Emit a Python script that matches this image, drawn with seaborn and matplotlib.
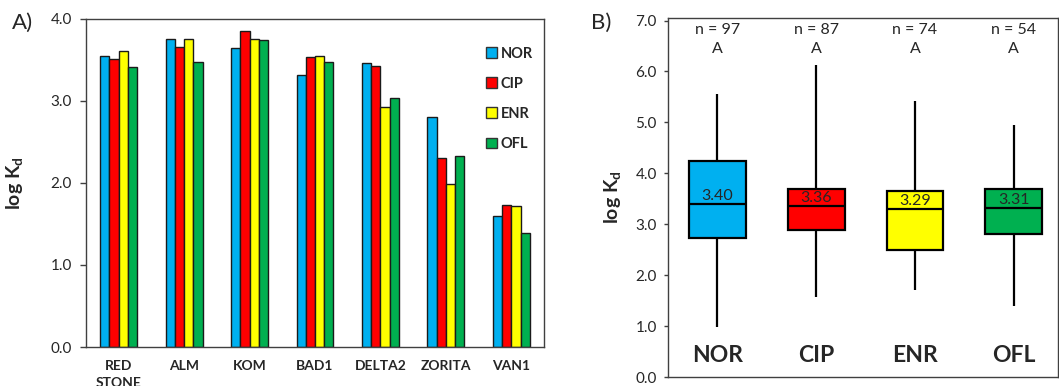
import pandas as pd
import matplotlib
matplotlib.use("Agg")
import matplotlib.pyplot as plt
import seaborn as sns
from matplotlib.patches import Patch

# --- data ---
sites = ["RED\nSTONE", "ALM", "KOM", "BAD1", "DELTA2", "ZORITA", "VAN1"]
drugs = ["NOR", "CIP", "ENR", "OFL"]
nor_kd = [3.55, 3.76, 3.64, 3.32, 3.46, 2.80, 1.60]
cip_kd = [3.51, 3.66, 3.85, 3.54, 3.43, 2.30, 1.73]
enr_kd = [3.61, 3.76, 3.76, 3.55, 2.93, 1.99, 1.72]
ofl_kd = [3.41, 3.48, 3.74, 3.48, 3.04, 2.33, 1.39]

# five-number summaries for panel B (min, q1, median, q3, max)
nor_box = [0.99, 2.73, 3.40, 4.25, 5.55]
cip_box = [1.58, 2.88, 3.36, 3.70, 6.12]
enr_box = [1.71, 2.49, 3.29, 3.65, 5.42]
ofl_box = [1.39, 2.80, 3.31, 3.70, 4.94]
n_counts = [97, 87, 74, 54]
groups = ["A", "A", "A", "A"]

colors = ["#00B0F0", "#FF0000", "#FFFF00", "#00B050"]

sns.set_theme(style="white")
plt.rcParams['font.family'] = ['Lato', 'DejaVu Sans']
plt.rcParams['mathtext.fontset'] = 'custom'
plt.rcParams['mathtext.rm'] = 'Lato'
plt.rcParams['mathtext.bf'] = 'Lato:bold'

fig = plt.figure(figsize=(10.59, 3.86), dpi=100)
ax1 = fig.add_axes([0.0812, 0.101, 0.4325, 0.850])
ax2 = fig.add_axes([0.6308, 0.0233, 0.3685, 0.9300])

# ---------------- A) grouped bars ----------------
rows = []
for vals, d in zip([nor_kd, cip_kd, enr_kd, ofl_kd], drugs):
    for s, v in zip(sites, vals):
        rows.append({"site": s, "drug": d, "kd": v})
df_bar = pd.DataFrame(rows)

sns.barplot(data=df_bar, x="site", y="kd", hue="drug", order=sites, hue_order=drugs,
            palette=colors, saturation=1, width=0.565, gap=0, edgecolor="#1a1a1a",
            linewidth=1, ax=ax1, legend=False)
ax1.set_xlim(-0.5, 6.5)
ax1.set_ylim(0, 4)
ax1.set_yticks([0, 1, 2, 3, 4])
ax1.set_yticklabels([f"{t:.1f}" for t in [0, 1, 2, 3, 4]], fontsize=11)
ax1.tick_params(axis="y", left=True, length=4, width=1, color="#404040", pad=6)
ax1.tick_params(axis="x", length=0, pad=9)
for lab in ax1.get_xticklabels():
    lab.set_fontweight("bold")
    lab.set_fontsize(10)
    lab.set_linespacing(1.5)
ax1.set_xlabel("")
ax1.set_ylabel(r"log K$_\mathbf{d}$", fontsize=14, fontweight="bold", labelpad=18)
for sp in ax1.spines.values():
    sp.set_color("#404040")
    sp.set_linewidth(1)

handles = [Patch(facecolor=c, edgecolor="#333333", linewidth=1) for c in colors]
ax1.legend(handles, drugs, loc="upper left", bbox_to_anchor=(0.845, 0.955), frameon=False,
           handlelength=0.75, handleheight=0.75, handletextpad=0.25, labelspacing=1.1,
           prop={"weight": "bold", "size": 10.5})

# ---------------- B) box plots ----------------
rows = []
for vals, d in zip([nor_box, cip_box, enr_box, ofl_box], drugs):
    for v in vals:
        rows.append({"drug": d, "kd": v})
df_box = pd.DataFrame(rows)

sns.boxplot(data=df_box, x="drug", y="kd", hue="drug", order=drugs, hue_order=drugs,
            palette=colors, whis=(0, 100), width=0.575, linewidth=1.6, linecolor="black",
            showcaps=False, saturation=1, ax=ax2, legend=False)
ax2.set_xlim(-0.5, 3.45)
ax2.set_ylim(0, 7.05)
ax2.set_yticks(range(8))
ax2.set_yticklabels([f"{t:.1f}" for t in range(8)], fontsize=11)
ax2.tick_params(axis="y", left=True, length=3, width=1, color="#404040", pad=5)
ax2.set_xticks([])
ax2.set_xlabel("")
ax2.set_ylabel(r"log K$_\mathbf{d}$", fontsize=14, fontweight="bold", labelpad=8)
for sp in ax2.spines.values():
    sp.set_color("#404040")
    sp.set_linewidth(1)

meds = [b[2] for b in [nor_box, cip_box, enr_box, ofl_box]]
for i, d in enumerate(drugs):
    ax2.text(i, meds[i] + 0.02, f"{meds[i]:.2f}", ha="center", va="bottom", fontsize=11.5)
    ax2.text(i, 6.82, f"n = {n_counts[i]}", ha="center", va="center", fontsize=11.5)
    ax2.text(i, 6.44, groups[i], ha="center", va="center", fontsize=11.5)
    ax2.text(i, 0.43, d, ha="center", va="center", fontsize=16.5, fontweight="bold")

fig.text(0.011, 0.942, "A)", fontsize=16, va="center")
fig.text(0.558, 0.942, "B)", fontsize=16, va="center")

fig.savefig("out.png", dpi=100)
